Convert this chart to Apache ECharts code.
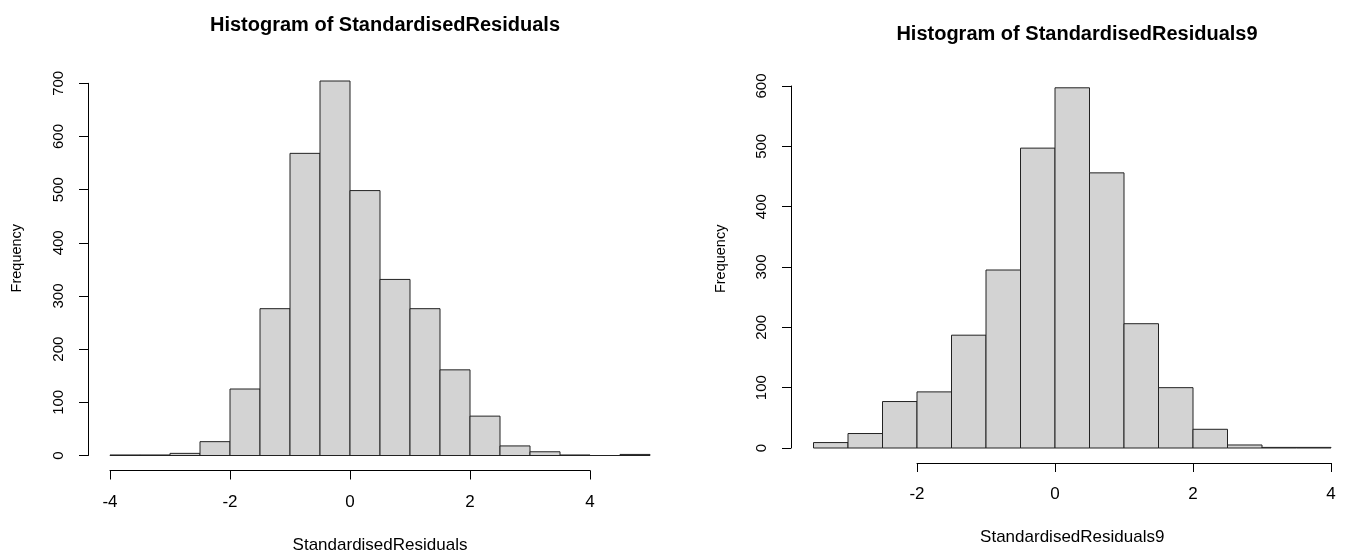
<!DOCTYPE html>
<html>
<head>
<meta charset="utf-8">
<script src="https://cdn.jsdelivr.net/npm/echarts@6/dist/echarts.min.js"></script>
<style>
html,body{margin:0;padding:0;background:#fff;}
#chart{width:1349px;height:554px;}
</style>
</head>
<body>
<div id="chart"></div>
<script>
// Left histogram: StandardisedResiduals
var leftBreaks = [-4, -3.5, -3, -2.5, -2, -1.5, -1, -0.5, 0, 0.5, 1, 1.5, 2, 2.5, 3, 3.5, 4, 4.5, 5];
var leftCounts = [1, 1, 4, 26, 125, 276, 568, 704, 498, 331, 276, 161, 74, 18, 7, 1, 0, 2];
var leftXTicks = [-4, -2, 0, 2, 4];
var leftYTicks = [0, 100, 200, 300, 400, 500, 600, 700];

// Right histogram: StandardisedResiduals9
var rightBreaks = [-3.5, -3, -2.5, -2, -1.5, -1, -0.5, 0, 0.5, 1, 1.5, 2, 2.5, 3, 3.5, 4];
var rightCounts = [9, 24, 77, 93, 187, 295, 497, 597, 456, 206, 100, 31, 5, 1, 1];
var rightXTicks = [-2, 0, 2, 4];
var rightYTicks = [0, 100, 200, 300, 400, 500, 600];

var titles = ['Histogram of StandardisedResiduals', 'Histogram of StandardisedResiduals9'];
var xNames = ['StandardisedResiduals', 'StandardisedResiduals9'];
var yName = 'Frequency';

function toBins(breaks, counts) {
  var out = [];
  for (var i = 0; i < counts.length; i++) out.push([breaks[i], breaks[i + 1], counts[i]]);
  return out;
}

var FONT = '"Liberation Sans", Arial, sans-serif';
var lineCol = '#000';

function renderItem(params, api) {
  var p0 = api.coord([api.value(0), api.value(2)]);
  var p1 = api.coord([api.value(1), 0]);
  return {
    type: 'rect',
    shape: { x: p0[0], y: p0[1], width: p1[0] - p0[0], height: p1[1] - p0[1] },
    style: { fill: '#d3d3d3', stroke: '#222', lineWidth: 1 }
  };
}

function hiddenAxis(gi, min, max, extra) {
  var a = {
    gridIndex: gi, type: 'value', min: min, max: max,
    axisLine: { show: false }, axisTick: { show: false }, axisLabel: { show: false }, splitLine: { show: false }
  };
  for (var k in extra) a[k] = extra[k];
  return a;
}

function visXAxis(gi, ticks) {
  return {
    gridIndex: gi, type: 'value', position: 'bottom',
    min: ticks[0], max: ticks[ticks.length - 1], interval: ticks[1] - ticks[0],
    axisLine: { show: true, lineStyle: { color: lineCol, width: 1 } },
    axisTick: { show: true, length: 9, lineStyle: { color: lineCol, width: 1 } },
    axisLabel: { show: true, margin: 23, fontSize: 17, fontFamily: FONT, color: '#000' },
    splitLine: { show: false }
  };
}

function visYAxis(gi, ticks) {
  return {
    gridIndex: gi, type: 'value', position: 'left',
    min: ticks[0], max: ticks[ticks.length - 1], interval: ticks[1] - ticks[0],
    axisLine: { show: true, lineStyle: { color: lineCol, width: 1 } },
    axisTick: { show: true, length: 9, lineStyle: { color: lineCol, width: 1 } },
    axisLabel: { show: true, rotate: 90, margin: 22, fontSize: 15, fontFamily: FONT, color: '#000' },
    splitLine: { show: false }
  };
}

var nameStyleX = { fontSize: 17, fontFamily: FONT, color: '#000' };
var nameStyleY = { fontSize: 14.5, fontFamily: FONT, color: '#000' };

function grid(l, t, w, h) {
  return { left: l, top: t, width: w, height: h, containLabel: false, outerBoundsMode: 'none' };
}

var option = {
  animation: false,
  backgroundColor: '#fff',
  title: [
    { text: titles[0], left: 380, top: 10, textAlign: 'center',
      textStyle: { fontSize: 20, fontWeight: 'bold', fontFamily: FONT, color: '#000' } },
    { text: titles[1], left: 1072, top: 19, textAlign: 'center',
      textStyle: { fontSize: 20, fontWeight: 'bold', fontFamily: FONT, color: '#000' } }
  ],
  grid: [
    grid(110, 60.8, 540, 394.7),     // 0 left bars
    grid(110, 460, 480, 10.5),       // 1 left x axis
    grid(88, 83.3, 10, 372.2),       // 2 left y axis
    grid(813.5, 69.7, 517.5, 378.3), // 3 right bars
    grid(917, 452, 414, 11),         // 4 right x axis
    grid(791, 86, 10, 362)           // 5 right y axis
  ],
  xAxis: [
    hiddenAxis(0, leftBreaks[0], leftBreaks[leftBreaks.length - 1],
      { name: xNames[0], nameLocation: 'middle', nameGap: 81, nameTextStyle: nameStyleX }),
    visXAxis(1, leftXTicks),
    hiddenAxis(2, 0, 1, { show: false }),
    hiddenAxis(3, rightBreaks[0], rightBreaks[rightBreaks.length - 1],
      { name: xNames[1], nameLocation: 'middle', nameGap: 80.5, nameTextStyle: nameStyleX }),
    visXAxis(4, rightXTicks),
    hiddenAxis(5, 0, 1, { show: false })
  ],
  yAxis: [
    hiddenAxis(0, 0, 742, { name: yName, nameLocation: 'middle', nameGap: 86, nameTextStyle: nameStyleY }),
    hiddenAxis(1, 0, 1, { show: false }),
    visYAxis(2, leftYTicks),
    hiddenAxis(3, 0, 627, { name: yName, nameLocation: 'middle', nameGap: 85, nameTextStyle: nameStyleY }),
    hiddenAxis(4, 0, 1, { show: false }),
    visYAxis(5, rightYTicks)
  ],
  series: [
    { type: 'custom', xAxisIndex: 0, yAxisIndex: 0, renderItem: renderItem, clip: false,
      encode: { x: [0, 1], y: 2 }, data: toBins(leftBreaks, leftCounts) },
    { type: 'custom', xAxisIndex: 3, yAxisIndex: 3, renderItem: renderItem, clip: false,
      encode: { x: [0, 1], y: 2 }, data: toBins(rightBreaks, rightCounts) }
  ]
};

var chart = echarts.init(document.getElementById('chart'), null, { renderer: 'canvas' });
chart.setOption(option);
</script>
</body>
</html>
